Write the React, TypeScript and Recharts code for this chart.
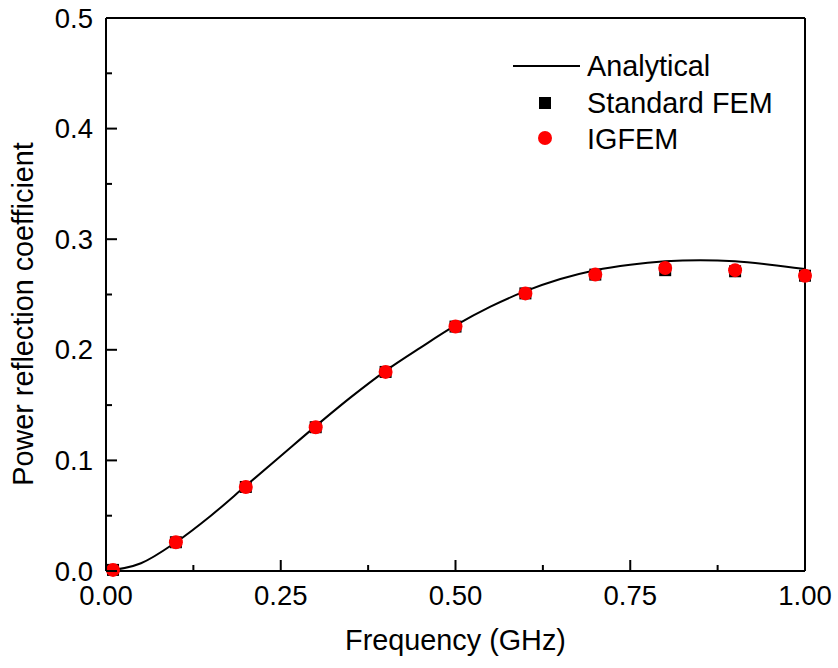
import React from "react";
import { ComposedChart, Line, Scatter, XAxis, YAxis, Legend } from "recharts";

const freqPts = [0.01, 0.1, 0.2, 0.3, 0.4, 0.5, 0.6, 0.7, 0.8, 0.9, 1.0];
const femVals = [0.001, 0.026, 0.076, 0.13, 0.18, 0.221, 0.251, 0.268, 0.272, 0.271, 0.267];
const igfemVals = [0.001, 0.026, 0.076, 0.13, 0.18, 0.221, 0.251, 0.268, 0.274, 0.272, 0.267];

const analyticFreq = [0, 0.05, 0.1, 0.15, 0.2, 0.25, 0.3, 0.35, 0.4, 0.45, 0.5, 0.55, 0.6, 0.65, 0.7, 0.75, 0.8, 0.85, 0.9, 0.95, 1.0];
const analyticVals = [0, 0.007, 0.026, 0.05, 0.077, 0.104, 0.131, 0.157, 0.181, 0.202, 0.222, 0.239, 0.253, 0.264, 0.272, 0.277, 0.28, 0.281, 0.28, 0.277, 0.273];

const xTicks = [0, 0.125, 0.25, 0.375, 0.5, 0.625, 0.75, 0.875, 1.0];
const yTicks = [0, 0.05, 0.1, 0.15, 0.2, 0.25, 0.3, 0.35, 0.4, 0.45, 0.5];

const FONT = "'Liberation Sans', Arial, sans-serif";
const FS = 27.5;
const FS_T = 28.8;

const analyticData = analyticFreq.map((x, i) => ({ x, y: analyticVals[i] }));
const femData = freqPts.map((x, i) => ({ x, y: femVals[i] }));
const igfemData = freqPts.map((x, i) => ({ x, y: igfemVals[i] }));

const isMajorX = (v: number) => Math.round(v * 1000) % 250 === 0;
const isMajorY = (v: number) => Math.round(v * 100) % 10 === 0;

const LeftTick = (p: any) => {
  const { x, y, payload } = p;
  const major = isMajorY(payload.value);
  return (
    <g>
      <line x1={x} x2={x + (major ? 11 : 6)} y1={y} y2={y} stroke="#000" strokeWidth={2} />
      {major && (
        <text x={x - 13} y={y + 9.5} textAnchor="end" fontSize={FS} fontFamily={FONT} fill="#000">
          {payload.value.toFixed(1)}
        </text>
      )}
    </g>
  );
};

const RightTick = (p: any) => {
  const { x, y, payload } = p;
  const major = isMajorY(payload.value);
  return <line x1={x} x2={x - (major ? 11 : 6)} y1={y} y2={y} stroke="#000" strokeWidth={2} />;
};

const BottomTick = (p: any) => {
  const { x, y, payload } = p;
  const major = isMajorX(payload.value);
  return (
    <g>
      <line x1={x} x2={x} y1={y} y2={y - (major ? 11 : 6)} stroke="#000" strokeWidth={2} />
      {major && (
        <text x={x} y={y + 34} textAnchor="middle" fontSize={FS} fontFamily={FONT} fill="#000">
          {payload.value.toFixed(2)}
        </text>
      )}
    </g>
  );
};

const TopTick = (p: any) => {
  const { x, y, payload } = p;
  const major = isMajorX(payload.value);
  return <line x1={x} x2={x} y1={y} y2={y + (major ? 11 : 6)} stroke="#000" strokeWidth={2} />;
};

const Square = (p: any) => {
  const { cx, cy } = p;
  return <rect x={cx - 6} y={cy - 6} width={12} height={12} fill="#000" />;
};
const Dot = (p: any) => {
  const { cx, cy } = p;
  return <circle cx={cx} cy={cy} r={7} fill="#ff0000" />;
};

const LegendBox = () => (
  <svg width={330} height={130} style={{ overflow: "visible" }}>
    <g transform="translate(-500,-40)">
      <line x1={513} x2={580} y1={66} y2={66} stroke="#000" strokeWidth={2} />
      <text x={587} y={76} fontSize={FS_T} fontFamily={FONT} fill="#000">Analytical</text>
      <rect x={539} y={97} width={12} height={12} fill="#000" />
      <text x={587} y={113} fontSize={FS_T} fontFamily={FONT} fill="#000">Standard FEM</text>
      <circle cx={545} cy={138} r={7} fill="#ff0000" />
      <text x={587} y={149} fontSize={FS_T} fontFamily={FONT} fill="#000">IGFEM</text>
    </g>
  </svg>
);

export default function App() {
  return (
    <div style={{ position: "absolute", left: 0, top: 0, background: "#fff" }}>
      <ComposedChart width={838} height={668} margin={{ top: 0, right: 0, left: 0, bottom: 0 }}>
        <XAxis
          xAxisId={0}
          dataKey="x"
          type="number"
          domain={[0, 1]}
          ticks={xTicks}
          interval={0}
          height={97}
          tickSize={0}
          tickMargin={0}
          tickLine={false}
          axisLine={{ stroke: "#000", strokeWidth: 2 }}
          tick={<BottomTick />}
          label={{
            content: (props: any) => {
              const vb = props.viewBox;
              return (
                <text x={vb.x + vb.width / 2} y={vb.y + 79} textAnchor="middle" fontSize={FS_T} fontFamily={FONT} fill="#000">
                  Frequency (GHz)
                </text>
              );
            },
          }}
        />
        <XAxis
          xAxisId="t"
          orientation="top"
          dataKey="x"
          type="number"
          domain={[0, 1]}
          ticks={xTicks}
          interval={0}
          height={18}
          tickSize={0}
          tickMargin={0}
          tickLine={false}
          axisLine={{ stroke: "#000", strokeWidth: 2 }}
          tick={<TopTick />}
        />
        <YAxis
          yAxisId={0}
          type="number"
          domain={[0, 0.5]}
          ticks={yTicks}
          interval={0}
          width={106}
          tickSize={0}
          tickMargin={0}
          tickLine={false}
          axisLine={{ stroke: "#000", strokeWidth: 2 }}
          tick={<LeftTick />}
          label={{
            content: () => (
              <text x={33} y={314} transform="rotate(-90, 33, 314)" textAnchor="middle" fontSize={FS_T} fontFamily={FONT} fill="#000">
                Power reflection coefficient
              </text>
            ),
          }}
        />
        <YAxis
          yAxisId="r"
          orientation="right"
          type="number"
          domain={[0, 0.5]}
          ticks={yTicks}
          interval={0}
          width={33}
          tickSize={0}
          tickMargin={0}
          tickLine={false}
          axisLine={{ stroke: "#000", strokeWidth: 2 }}
          tick={<RightTick />}
        />
        <Line
          xAxisId={0}
          yAxisId={0}
          data={analyticData}
          dataKey="y"
          type="monotone"
          stroke="#000"
          strokeWidth={2}
          dot={false}
          isAnimationActive={false}
        />
        <Scatter xAxisId={0} yAxisId={0} data={femData} dataKey="y" shape={<Square />} isAnimationActive={false} />
        <Scatter xAxisId={0} yAxisId={0} data={igfemData} dataKey="y" shape={<Dot />} isAnimationActive={false} />
        <Legend
          layout="horizontal"
          verticalAlign="middle"
          align="center"
          content={() => <LegendBox />}
          wrapperStyle={{ left: 500, top: 40, width: 330, height: 130 }}
        />
      </ComposedChart>
    </div>
  );
}
